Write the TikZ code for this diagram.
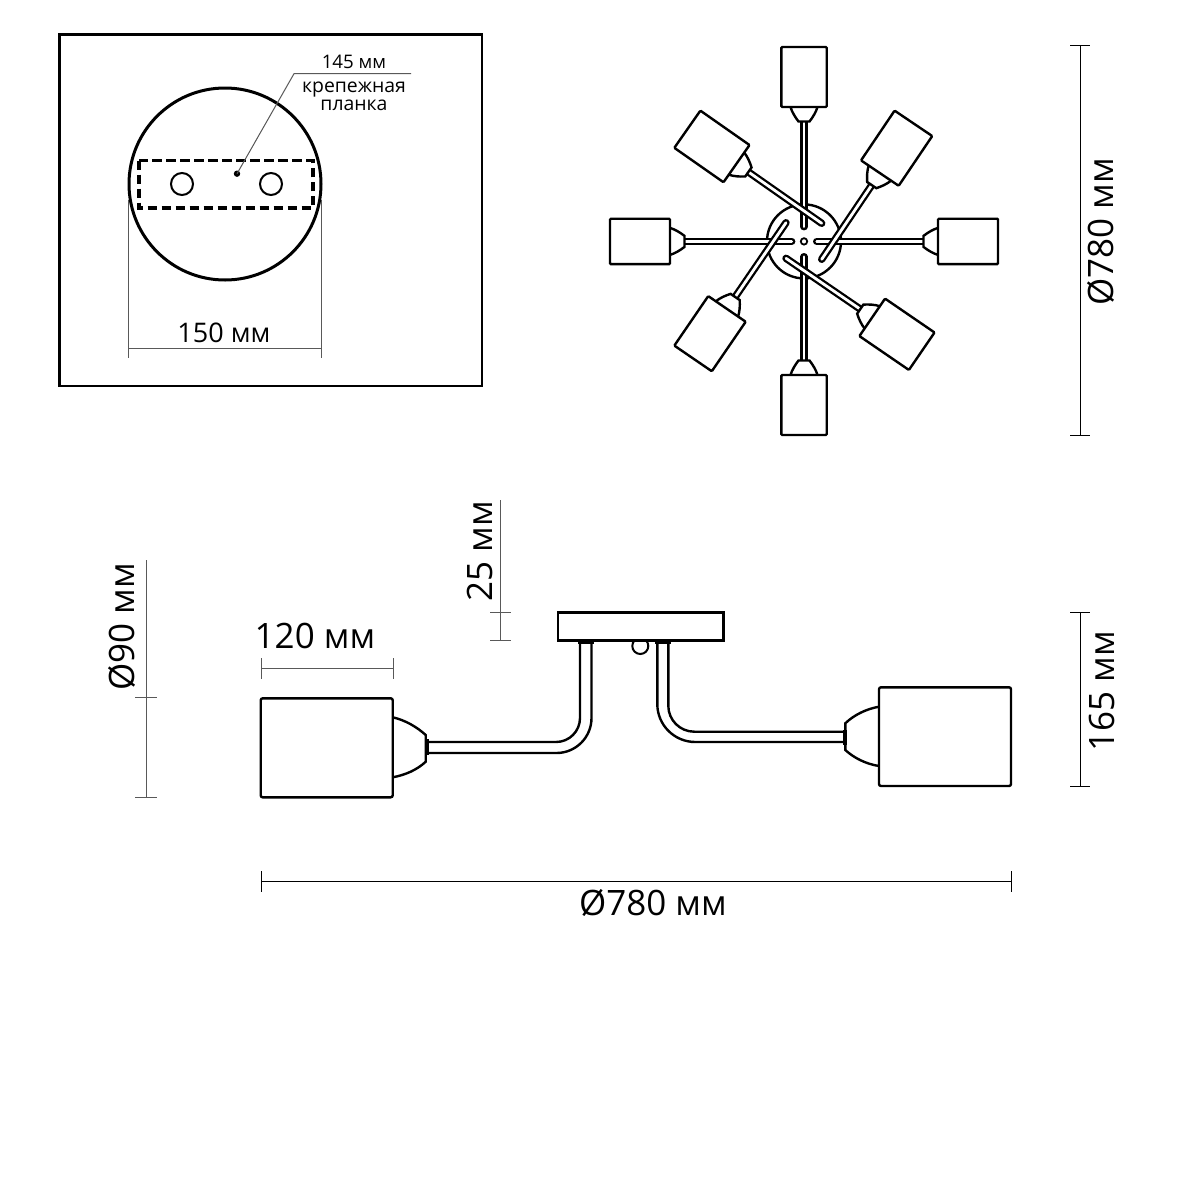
\documentclass[tikz,border=0pt]{standalone}
\usepackage{fontspec}
\setmainfont{Open Sans}
\newcommand{\fs}[1]{\fontsize{#1}{#1}\selectfont}
\newcommand{\lampv}[4]{%
  \begin{scope}[shift={(#1,#2)},rotate=#3]
    \draw[rod] (0,0) -- (#4-14,0);
    \draw[rodcore] (0,0) -- (#4-14,0);
    \draw[ln,fill=white] (#4,13.5) .. controls (#4-5,12) and (#4-10,9) .. (#4-14.5,5.5) -- (#4-14.5,-5.5) .. controls (#4-10,-9) and (#4-5,-12) .. (#4,-13.5);
    \draw[ln,fill=white,rounded corners=1pt] (#4,-22.7) rectangle (#4+60,22.7);
  \end{scope}}
\tikzset{
  x=1pt,y=-1pt,
  ln/.style={line width=2.4pt,black},
  rod/.style={line width=7.4pt,black,line cap=round},
  rodcore/.style={line width=2.8pt,white,line cap=round},
  dim/.style={line width=1pt,black!65},
  lab/.style={inner sep=0pt,text=black},
}
\begin{document}
\begin{tikzpicture}
\useasboundingbox[fill=white] (0,0) rectangle (1200,1200);
% inset
\draw[line width=2.6pt] (59.5,34.5) rectangle (482,386);
\draw[dim] (128.5,200) -- (128.5,358);
\draw[dim] (321,200) -- (321,358);
\draw[dim] (128.5,348) -- (321,348);
\draw[line width=3pt] (225,184) circle[radius=96];
\draw[line width=3.3pt,dash pattern=on 9.5pt off 4.5pt] (139,160.7) rectangle (313,208);
\draw[line width=2pt] (182,184) circle[radius=11];
\draw[line width=2pt] (271,184) circle[radius=11];
\fill (237,173.7) circle[radius=3.2];
\draw[dim] (237,173.7) -- (294,73.7) -- (411,73.7);
\node[lab] (t145) at (354,62) {\fs{18.7}145 мм};
\node[lab] (tkr) at (354,90) {\fs{19.4}крепежная};
\node[lab] (tpl) at (354,105) {\fs{19.4}планка};
\node[lab] (t150) at (224,333) {\fs{27}150 мм};
% top view
\draw[ln] (804,241.4) circle[radius=37];
\lampv{804}{226.7}{90}{119.7}
\lampv{804}{256.7}{270}{118.3}
\lampv{791.7}{241.4}{180}{121.7}
\lampv{816.7}{241.4}{0}{121.3}
\lampv{821.7}{223.3}{145}{104}
\lampv{821.7}{259.3}{56}{104}
\lampv{786}{222.7}{235.6}{104.5}
\lampv{786}{258.3}{-34.4}{104.5}
\draw[line width=1.8pt] (804,241.4) circle[radius=3.2];
\draw[dim,black] (1080,45) -- (1080,435);
\draw[dim,black] (1070,45) -- (1090,45);
\draw[dim,black] (1070,435) -- (1090,435);
\node[lab,rotate=90] (t780a) at (1101,232) {\fs{35}Ø780 мм};
% side view
\draw[line width=2pt,fill=white] (640.3,646) circle[radius=8];
\draw[ln,fill=white] (558,612.3) rectangle (723.3,640.5);
\draw[ln] (580,641) -- (580,718) arc[start angle=0,end angle=90,radius=24] -- (427,742);
\draw[ln] (591.5,641) -- (591.5,718) arc[start angle=0,end angle=90,radius=35] -- (427,753);
\fill (578,639.5) rectangle (594,644);
\fill (424.5,739) rectangle (429,755);
\draw[ln] (392.7,717.3) .. controls (405,720) and (417,727) .. (425.7,735) -- (425.7,761.7) .. controls (417,770) and (405,775) .. (392.7,777.3);
\draw[ln,rounded corners=2pt] (260.7,698.3) -- (392.7,698.3) -- (392.7,797.3) -- (260.7,797.3) -- cycle;
\draw[ln] (668.3,641) -- (668.3,705.7) arc[start angle=180,end angle=90,radius=26] -- (844,731.7);
\draw[ln] (657.3,641) -- (657.3,704) arc[start angle=180,end angle=90,radius=38] -- (844,742);
\fill (655,639.5) rectangle (670.5,644);
\fill (843,730) rectangle (847,745);
\draw[ln] (879,706.7) .. controls (866,709) and (854,715) .. (845.3,723.3) -- (845.3,750) .. controls (854,758) and (866,764) .. (879,766);
\draw[ln,rounded corners=2pt] (1011,687.3) -- (879,687.3) -- (879,786) -- (1011,786) -- cycle;
% dimensions side view
\draw[dim] (261,668.3) -- (393,668.3);
\draw[dim] (261,658) -- (261,679);
\draw[dim] (393,658) -- (393,679);
\draw[dim] (500.7,500) -- (500.7,640.5);
\draw[dim] (490,612.3) -- (511,612.3);
\draw[dim] (490,640.5) -- (511,640.5);
\draw[dim] (146,560) -- (146,797.3);
\draw[dim] (135,697.5) -- (157,697.5);
\draw[dim] (135,797.3) -- (157,797.3);
\draw[dim,black] (1080,612.3) -- (1080,786);
\draw[dim,black] (1070,612.3) -- (1090,612.3);
\draw[dim,black] (1070,786) -- (1090,786);
\draw[dim,black] (261,881.5) -- (1011,881.5);
\draw[dim,black] (261,871) -- (261,892);
\draw[dim,black] (1011,871) -- (1011,892);
\node[lab] (t120) at (315,636) {\fs{35}120 мм};
\node[lab,rotate=90] (t25) at (480,551) {\fs{35}25 мм};
\node[lab,rotate=90] (t90) at (122,627) {\fs{35}Ø90 мм};
\node[lab,rotate=90] (t165) at (1102,691) {\fs{35}165 мм};
\node[lab] (t780b) at (653,903) {\fs{35}Ø780 мм};
\end{tikzpicture}
\end{document}
